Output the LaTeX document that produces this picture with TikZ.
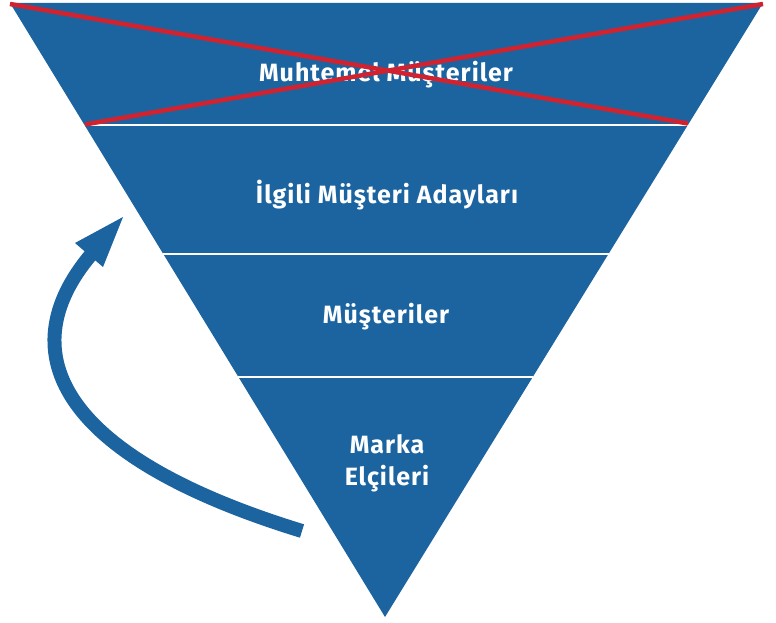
\documentclass[tikz,border=0pt]{standalone}
\usepackage{fontspec}
\setmainfont{Fira Sans}[LetterSpace=4]

\definecolor{funnelblue}{HTML}{1C64A0}
\definecolor{crossred}{HTML}{D0232F}

\tikzset{
  band label/.style={anchor=base, inner sep=0pt, text=white,
    font=\fontsize{25}{32}\selectfont\bfseries},
  band line/.style={draw=white, line width=2pt},
}

\begin{document}
\begin{tikzpicture}[x=1pt, y=-1pt, line join=round]

  %% ==== huni (ters ucgen) ====
  \coordinate (topL) at (10,3);
  \coordinate (topR) at (763,3);
  \coordinate (apex) at (385,617);
  \fill[funnelblue] (topL) -- (topR) -- (apex) -- cycle;

  %% ==== bant ayiricilar ====
  \draw[band line] (84.5,125.5) -- (687.9,125.5);
  \draw[band line] (162.7,253.5) -- (609.1,253.5);
  \draw[band line] (237.8,376.5) -- (533.4,376.5);

  %% ==== etiketler ====
  \node[band label] (muhtemel) at (386,82) {Muhtemel Müşteriler};
  \node[band label] (ilgili) at (387,203) {İlgili Müşteri Adayları};
  \node[band label] (musteri) at (386,323) {Müşteriler};
  \node[band label] (marka) at (387,453) {Marka};
  \node[band label] (elci) at (387,485) {Elçileri};

  %% ==== kirmizi carpi ====
  \draw[crossred, line width=4.5pt] (10,4) -- (688,123.5);
  \draw[crossred, line width=4.5pt] (763,4) -- (85,124.5);

  %% ==== geri donus oku ====
  \coordinate (arrowstart) at (302,531);
  \coordinate (shaftend) at (95,250);
  \coordinate (arrowtip) at (123,217);
  \coordinate (barbL) at (75,243);
  \coordinate (barbR) at (103,267);
  \draw[funnelblue, line width=14pt]
    (arrowstart) .. controls (54,455) and (8,348) .. (shaftend);
  \fill[funnelblue] (arrowtip) -- (barbL) -- (barbR) -- cycle;

  \pgfresetboundingbox
  \path[use as bounding box] (0,0) rectangle (776,623);
\end{tikzpicture}
\end{document}
